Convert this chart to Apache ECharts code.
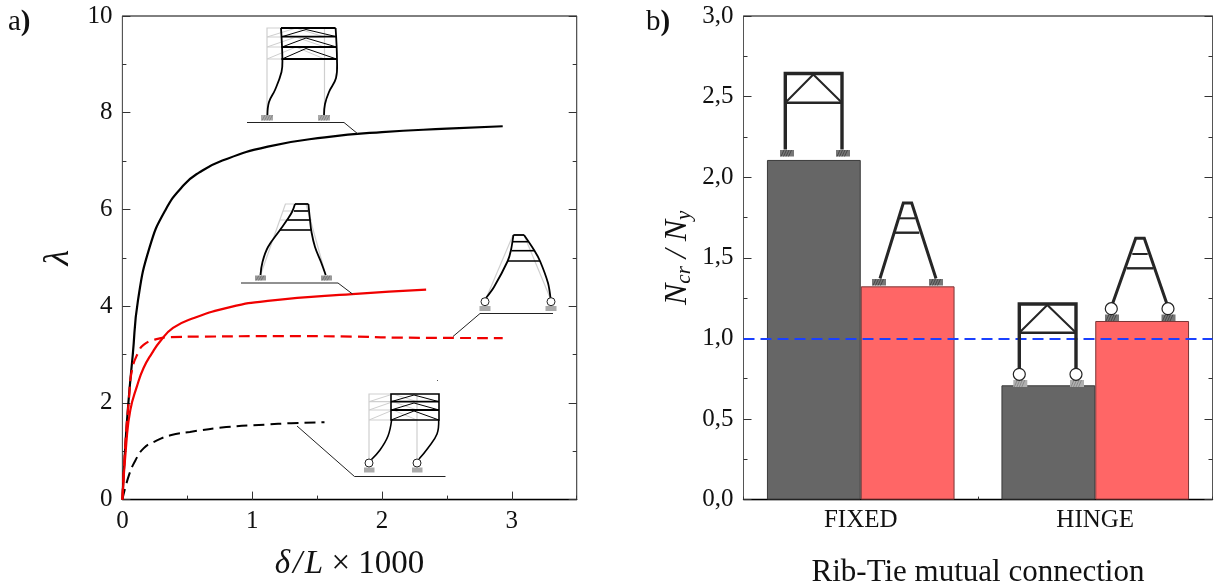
<!DOCTYPE html>
<html><head><meta charset="utf-8">
<style>html,body{margin:0;padding:0;background:#fff}#c{width:1217px;height:586px}</style>
<script src="https://cdn.jsdelivr.net/npm/echarts@6/dist/echarts.min.js"></script>
</head><body><div id="c"></div>
<script>
// ---- panel a) data: [delta/L x 1000, lambda]
const fixedRibSolid = [[0,0],[0.02,1],[0.046,2],[0.08,3],[0.12,4.12],[0.21,5.22],[0.33,5.98],[0.475,6.51],[0.59,6.76],[0.77,7.01],[1.12,7.3],[1.56,7.49],[2.0,7.6],[2.5,7.67],[2.93,7.72]];
const fixedTieSolid = [[0,0],[0.03,1.16],[0.061,1.85],[0.113,2.35],[0.163,2.72],[0.228,3.03],[0.29,3.27],[0.39,3.55],[0.545,3.75],[0.83,3.98],[1.12,4.11],[1.77,4.25],[2.34,4.34]];
const hingeTieDashed = [[0,0],[0.023,1.16],[0.05,2.06],[0.074,2.68],[0.125,3.06],[0.163,3.2],[0.24,3.3],[0.37,3.36],[0.6,3.37],[1.2,3.38],[1.8,3.37],[2.1,3.35],[2.93,3.34]];
const hingeRibDashed = [[0,0],[0.05,0.5],[0.1,0.81],[0.163,1.06],[0.24,1.19],[0.37,1.33],[0.52,1.4],[0.8,1.5],[1.1,1.55],[1.3,1.58],[1.557,1.6]];
// ---- panel b) data
const categories = ['FIXED','HINGE'];
const ribValues = [2.107,0.709];
const tieValues = [1.323,1.108];
const yieldLevel = [1.0];

const SERIF = '"Liberation Serif","Times New Roman",serif';
const ax = {color:'#111',fontFamily:SERIF,fontSize:25};
function yAx(g,max,intv,pos,fmt){
  return {type:'value',gridIndex:g,position:pos,min:0,max:max,interval:intv,
    axisLine:{show:true,onZero:false,lineStyle:{color:'#555',width:1}},
    axisTick:{show:true,inside:true,length:8,lineStyle:{color:'#333',width:1}},
    minorTick:{show:true,splitNumber:2,length:4,lineStyle:{color:'#333',width:1}},
    splitLine:{show:false},minorSplitLine:{show:false},
    axisLabel:pos==='left'?Object.assign({margin:10,formatter:fmt},ax):{show:false}};
}
const curve = {type:'line',xAxisIndex:0,yAxisIndex:0,showSymbol:false,smooth:0.5};
const option = {
  animation:false,backgroundColor:'#fff',
  grid:[
    {left:122.4,right:640.3,top:16,bottom:86.4,show:true,borderColor:'#000',borderWidth:1,outerBoundsMode:'none'},
    {left:743.5,right:4.5,top:16,bottom:86.4,show:true,borderColor:'#000',borderWidth:1,outerBoundsMode:'none'}
  ],
  xAxis:[
    {type:'value',gridIndex:0,min:0,max:3.5,interval:1,position:'bottom',
     name:'{i|δ\u200a/\u200aL}{n| × 1000}',nameLocation:'middle',nameGap:48,
     nameTextStyle:{rich:{i:{fontFamily:SERIF,fontStyle:'italic',fontSize:33,color:'#111'},n:{fontFamily:SERIF,fontSize:33,color:'#111'}}},
     axisLine:{show:true,onZero:false,lineStyle:{color:'#000',width:1.4}},
     axisTick:{show:true,inside:true,length:8,lineStyle:{color:'#333'}},
     splitLine:{show:false},
     axisLabel:Object.assign({margin:9,showMaxLabel:false,formatter:v=>Number.isInteger(v)?String(v):''},ax)},
    {type:'value',gridIndex:0,min:0,max:3.5,interval:0.5,position:'bottom',
     axisLine:{show:false},axisLabel:{show:false},splitLine:{show:false},
     axisTick:{show:true,inside:true,length:4,lineStyle:{color:'#333'}}},
    {type:'category',gridIndex:1,data:categories,position:'bottom',
     axisLine:{show:true,lineStyle:{color:'#000',width:1.4}},
     axisTick:{show:true,inside:true,length:3,lineStyle:{color:'#333'}},
     splitLine:{show:false},
     name:'Rib-Tie mutual connection',nameLocation:'middle',nameGap:58,
     nameTextStyle:{fontFamily:SERIF,fontSize:31,color:'#111'},
     axisLabel:{color:'#111',fontFamily:SERIF,fontSize:25,margin:8}}
  ],
  yAxis:[
    Object.assign(yAx(0,10,2,'left',v=>String(v)),{
      name:'λ',nameLocation:'middle',nameGap:46,nameRotate:90,
      nameTextStyle:{fontFamily:SERIF,fontStyle:'italic',fontSize:36,color:'#111'}}),
    yAx(0,10,2,'right'),
    Object.assign(yAx(1,3,0.5,'left',v=>v.toFixed(1).replace('.',',')),{
      name:'{i|N}{s|cr}{i| /}{i| N}{s|y}',nameLocation:'middle',nameGap:49,nameRotate:90,
      nameTextStyle:{rich:{
        i:{fontFamily:SERIF,fontStyle:'italic',fontSize:32,color:'#111'},
        s:{fontFamily:SERIF,fontStyle:'italic',fontSize:21,color:'#111',verticalAlign:'bottom',padding:[12,0,0,0]}}}}),
    yAx(1,3,0.5,'right')
  ],
  series:[
    Object.assign({},curve,{name:'Fixed rib',data:fixedRibSolid,lineStyle:{color:'#000',width:2.2}}),
    Object.assign({},curve,{name:'Hinge rib',data:hingeRibDashed,lineStyle:{color:'#000',width:2,type:[11,6]}}),
    Object.assign({},curve,{name:'Fixed tie',data:fixedTieSolid,lineStyle:{color:'#f00000',width:2.2}}),
    Object.assign({},curve,{name:'Hinge tie',data:hingeTieDashed,lineStyle:{color:'#f00000',width:2.2,type:[11,6]}}),
    {type:'bar',name:'Rib',xAxisIndex:2,yAxisIndex:2,data:ribValues,barWidth:'40%',barGap:0,
     itemStyle:{color:'#666666',borderColor:'#3a3a3a',borderWidth:1}},
    {type:'bar',name:'Tie',xAxisIndex:2,yAxisIndex:2,data:tieValues,barWidth:'40%',barGap:0,
     itemStyle:{color:'#ff6666',borderColor:'#7a3535',borderWidth:1},
     markLine:{silent:true,symbol:'none',label:{show:false},
       lineStyle:{color:'#1a40ff',width:2,type:[11,6]},
       data:[{yAxis:yieldLevel[0]}]}}
  ],
  graphic:{elements:buildSketches()}
};

function buildSketches(){
  const E=[];
  const Z=50;
  const line=(pts,c,w,smooth)=>E.push({type:'polyline',z:Z,silent:true,shape:{points:pts,smooth:smooth||0},style:{stroke:c,lineWidth:w,fill:null}});
  const circ=(x,y,r,w,c)=>E.push({type:'circle',z:Z+1,silent:true,shape:{cx:x,cy:y,r:r},style:{fill:'#fff',stroke:c,lineWidth:w}});
  const rect=(x,y,w,h,c)=>E.push({type:'rect',z:Z,silent:true,shape:{x:x,y:y,width:w,height:h},style:{fill:c}});
  const hatch=(x,y,w,h,bg,fg)=>{
    rect(x,y,w,h,bg);
    for(let b=x+1;b<x+w-3;b+=2.5)line([[b,y+h],[b+3,y]],fg,0.7);
  };
  const G='#cfcfcf', K='#000', D='#262626';

  // text labels
  const panel=(x,t)=>E.push({type:'text',z:Z,silent:true,x:x,y:8,style:{
    text:t+'{b|)}',fontFamily:SERIF,fontSize:29,fill:'#111',rich:{b:{fontFamily:SERIF,fontSize:29,fontWeight:'bold',fill:'#111'}}}});
  panel(8,'a'); panel(646,'b');

  // leader lines
  line([[247,122.5],[344,122.5],[358,134]],'#222',1);
  line([[241,283],[338,283],[352.5,294]],'#222',1);
  line([[553,313.5],[480,313.5],[453,336.5]],'#222',1);
  line([[297,426],[354.5,476.5],[445.5,476.5]],'#222',1);
  rect(437,380,1,1,'#555');

  // sketch 1: fixed, box frame (a)
  line([[267,115],[267,28],[324.5,28],[324.5,115]],G,1.2);
  [37,47,59].forEach(y=>line([[267,y],[324.5,y]],G,1.2));
  [[59,47],[47,37],[37,28]].forEach(p=>line([[267,p[0]],[296,p[1]],[324.5,p[0]]],G,1));
  line([[281,28],[335.6,28]],K,1.8);
  [36.7,47,59].forEach(y=>line([[281.5,y],[336.5,y]],K,1.8));
  [[59,48.5],[47,38],[36.7,29.5]].forEach(p=>line([[282,p[0]],[306,p[1]],[336.5,p[0]]],K,1));
  line([[281,28],[282.4,60],[281.5,72],[275,90],[269,102],[267.4,115]],K,1.8,0.4);
  line([[335.6,28],[337,60],[336,78],[329,92],[325,104],[324,115]],K,1.8,0.4);
  hatch(261,115,12,5.5,'#aaa','#777'); hatch(318,115,12,5.5,'#aaa','#777');

  // sketch 2: fixed, A frame (a)
  line([[260.5,275],[285.4,204],[306,204],[325.7,275]],G,1.2);
  [[211,283,309],[220,280,312]].forEach(b=>line([[b[1],b[0]],[b[2],b[0]]],G,1));
  line([[295,204],[308.4,204]],K,1.8);
  line([[294,211],[308.4,211]],K,1.6); line([[287.4,220],[310,220]],K,1.6); line([[280,230],[311.5,230]],K,1.6);
  line([[295,204],[292,212],[287,220],[280,230],[268,247],[262.5,262],[260.5,275]],K,1.8,0.4);
  line([[308.4,204],[310,220],[311.5,232],[315,247],[321,262],[325.7,275]],K,1.8,0.4);
  hatch(255,275.5,11,5,'#999','#666'); hatch(321,275.5,11,5,'#999','#666');

  // sketch 3: hinged, A frame (a)
  line([[485.4,300],[513,235],[524,235],[551,300]],G,1.2);
  line([[513.4,235],[524,235]],K,1.8);
  line([[512.6,241.7],[528,241.7]],K,1.6); line([[511.5,250.7],[534.5,250.7]],K,1.6); line([[507.7,261],[540,261]],K,1.6);
  line([[513.4,235],[511,250],[507.7,261],[494,287],[486,298]],K,1.8,0.3);
  line([[524,235],[534.5,250.7],[540,261],[548,283],[550.5,298]],K,1.8,0.3);
  rect(479.5,306,11,5,'#aaa'); rect(545.5,306,11,5,'#aaa');
  circ(485,301.7,4,1,'#222'); circ(551,301.7,4,1,'#222');

  // sketch 4: hinged, box frame (a)
  line([[369,463],[369,394],[417,394],[417,463]],G,1.2);
  [401.7,410,420].forEach(y=>line([[369,y],[417,y]],G,1.2));
  [[420,410],[410,401.7],[401.7,394]].forEach(p=>line([[369,p[0]],[393,p[1]],[417,p[0]]],G,1));
  E.push({type:'rect',z:Z,silent:true,shape:{x:391,y:394,width:48,height:26},style:{fill:null,stroke:K,lineWidth:1.6}});
  [401.7,410].forEach(y=>line([[391,y],[439,y]],K,1.8));
  [[420,411],[410,403],[401.7,395]].forEach(p=>line([[391,p[0]],[414,p[1]],[439,p[0]]],K,1));
  line([[391.6,420],[388,436],[380,450],[371,460]],K,1.6,0.4);
  line([[438.7,420],[437,434],[428,448],[419,459]],K,1.6,0.4);
  rect(364,467.5,10.5,5,'#aaa'); rect(412,467.5,10.5,5,'#aaa');
  circ(369,463,4,1,'#222'); circ(417,463,4,1,'#222');

  // sketch 5: FIXED rib (b)
  line([[785.3,149.5],[785.3,73.5],[842,73.5],[842,149.5]],D,3.4);
  line([[785.3,102.7],[842,102.7]],D,2.4);
  line([[785.3,102.7],[813.3,74.5],[842,102.7]],D,2);
  hatch(780,150,14,6.5,'#777','#333'); hatch(836,150,14,6.5,'#777','#333');

  // sketch 6: FIXED tie (b)
  line([[880,278.5],[903.3,203],[911.7,203],[936,278.5]],D,3);
  line([[899.3,218.3],[915.3,218.3]],D,2); line([[895,232.7],[919.3,232.7]],D,2.4);
  hatch(872,279,14,6.5,'#777','#333'); hatch(929,279,14,6.5,'#777','#333');

  // sketch 7: HINGE rib (b)
  line([[1019.3,369],[1019.3,304],[1076,304],[1076,369]],D,3.4);
  line([[1019.3,332.7],[1076,332.7]],D,2.4);
  line([[1019.3,332.7],[1047.3,305],[1076,332.7]],D,2);
  hatch(1013.3,380,14,7,'#b0b0b0','#777'); hatch(1070,380,14,7,'#b0b0b0','#777');
  circ(1019.3,374.3,6,1.2,'#222'); circ(1076,374.3,6,1.2,'#222');

  // sketch 8: HINGE tie (b)
  line([[1112.7,303.3],[1135.7,238.3],[1144.3,238.3],[1166.7,303.3]],D,3);
  line([[1132.3,254],[1147.7,254]],D,2); line([[1126.7,268.3],[1153.3,268.3]],D,2.4);
  hatch(1105,314.5,14,6.5,'#777','#333'); hatch(1161.5,314.5,14,6.5,'#777','#333');
  circ(1111.3,308.7,6,1.2,'#222'); circ(1168,308.7,6,1.2,'#222');
  return E;
}
echarts.init(document.getElementById('c'),null,{renderer:'canvas'}).setOption(option);
</script></body></html>
